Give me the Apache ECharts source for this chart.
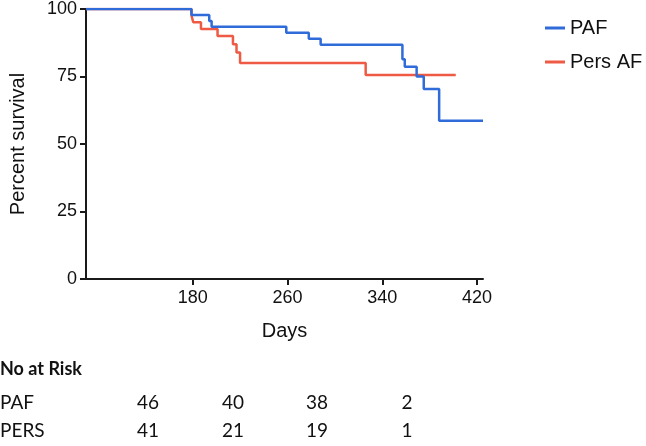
<!DOCTYPE html>
<html>
<head>
<meta charset="utf-8">
<style>
  html, body { margin: 0; padding: 0; background: #fff; }
  #main { width: 646px; height: 446px; }
</style>
<script src="https://cdn.jsdelivr.net/npm/echarts@6/dist/echarts.min.js"></script>
</head>
<body>
<div id="main"></div>
<script>
// Kaplan-Meier steps (days / percent survival)
var pafDays = [90, 179, 194, 196, 259, 278, 288, 357, 359, 369, 375, 388, 425];
var pafSurv = [100, 97.8, 95.6, 93.4, 91.2, 89.0, 86.8, 81.4, 78.6, 75.0, 70.4, 58.6, 58.6];
var persDays = [90, 179, 180.5, 187, 201, 214, 217, 220, 326, 402];
var persSurv = [100, 97.6, 95.1, 92.6, 90.0, 86.9, 83.9, 80.0, 75.6, 75.6];

var xTicks = [180, 260, 340, 420];

// number at risk table
var riskTitle = 'No at Risk';
var riskGroups = ['PAF', 'PERS'];
var pafRisk = [46, 40, 38, 2];
var persRisk = [41, 21, 19, 1];

var blue = '#2f6bd9';
var red = '#ee5a44';
var ink = '#111';
var sans = '"Liberation Sans", Arial, Helvetica, sans-serif';

function pairs(xs, ys) {
  var out = [];
  for (var i = 0; i < xs.length; i++) out.push([xs[i], ys[i]]);
  return out;
}

// table text as graphic elements
var colX = [148, 233, 317, 407];
var rowY = [403, 431];
var tableFont = 'Lato, "Liberation Sans", sans-serif';
var graphics = [{
  type: 'text', left: 0, top: 360,
  style: { text: riskTitle, font: 'bold 18px ' + tableFont, fill: ink }
}];
[pafRisk, persRisk].forEach(function(row, r) {
  graphics.push({
    type: 'text', x: 0, y: rowY[r],
    style: { text: riskGroups[r], font: '19px ' + tableFont, fill: ink, verticalAlign: 'middle' }
  });
  row.forEach(function(v, c) {
    graphics.push({
      type: 'text', x: colX[c], y: rowY[r],
      style: { text: String(v), font: '19px ' + tableFont, fill: ink, align: 'center', verticalAlign: 'middle' }
    });
  });
});

var chart = echarts.init(document.getElementById('main'));
chart.setOption({
  animation: false,
  textStyle: { fontFamily: sans },
  grid: { left: 80, right: 163, top: 9, bottom: 167 },
  legend: {
    orient: 'vertical',
    left: 540, top: 13,
    itemWidth: 20, itemHeight: 3,
    itemGap: 14,
    icon: 'rect',
    textStyle: { fontSize: 20, color: ink, fontFamily: sans },
    data: ['PAF', 'Pers AF']
  },
  xAxis: {
    type: 'value',
    min: 90, max: 425,
    name: 'Days',
    nameLocation: 'middle',
    nameGap: 42,
    nameTextStyle: { fontSize: 20, color: ink, fontFamily: sans, verticalAlign: 'top' },
    splitLine: { show: false },
    axisLine: { onZero: false, lineStyle: { color: '#1a1a1a', width: 2 } },
    axisTick: { customValues: xTicks, length: 6, lineStyle: { color: '#1a1a1a', width: 2 } },
    axisLabel: { customValues: xTicks, fontSize: 18, color: ink, fontFamily: sans, margin: 10 }
  },
  yAxis: {
    type: 'value',
    min: 0, max: 100, interval: 25,
    name: 'Percent survival',
    nameLocation: 'middle',
    nameGap: 58,
    nameTextStyle: { fontSize: 20, color: ink, fontFamily: sans },
    splitLine: { show: false },
    axisLine: { show: true, lineStyle: { color: '#1a1a1a', width: 2 } },
    axisTick: { show: true, length: 6, lineStyle: { color: '#1a1a1a', width: 2 } },
    axisLabel: { fontSize: 18, color: ink, fontFamily: sans, margin: 9 }
  },
  series: [{
    name: 'Pers AF',
    type: 'line',
    step: 'end',
    symbol: 'none',
    color: red,
    lineStyle: { width: 2.5, color: red },
    data: pairs(persDays, persSurv),
    z: 2
  }, {
    name: 'PAF',
    type: 'line',
    step: 'end',
    symbol: 'none',
    color: blue,
    lineStyle: { width: 2.5, color: blue },
    data: pairs(pafDays, pafSurv),
    z: 3
  }],
  graphic: graphics
});
</script>
</body>
</html>
